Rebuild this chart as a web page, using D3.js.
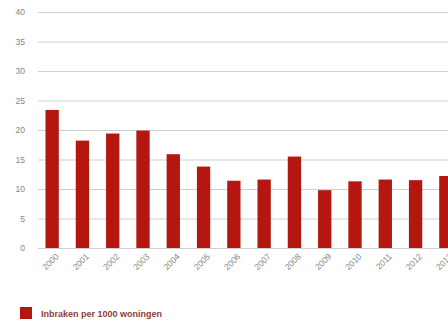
<!DOCTYPE html>
<html><head><meta charset="utf-8">
<script src="https://cdn.jsdelivr.net/npm/d3@7"></script>
<style>body{margin:0;background:#fff;}svg{display:block;}</style>
</head><body>
<svg id="c" width="448" height="324"></svg>
<script>
const years = ["2000","2001","2002","2003","2004","2005","2006","2007","2008","2009","2010","2011","2012","2013"];
const values = [23.4,18.2,19.4,19.9,15.9,13.8,11.4,11.6,15.5,9.8,11.3,11.6,11.5,12.2];
const yTicks = [0,5,10,15,20,25,30,35,40];
const legendLabel = "Inbraken per 1000 woningen";

const svg = d3.select("#c");
const y = d3.scaleLinear().domain([0,40]).range([248,12]);
const x = d3.scaleBand().domain(years).range([37,461]).paddingInner(0.56).paddingOuter(0.28);

// gridlines
svg.append("g").selectAll("line").data(yTicks).join("line")
  .attr("x1",38).attr("x2",448)
  .attr("y1",d=>y(d)+0.5).attr("y2",d=>y(d)+0.5)
  .attr("stroke","#cfcfcf").attr("stroke-width",1);

// y axis labels
const yAxis = d3.axisLeft(y).tickValues(yTicks).tickSize(0).tickPadding(0);
const ya = svg.append("g").attr("transform","translate(25,0)").call(yAxis);
ya.select(".domain").remove();
ya.selectAll("text").attr("font-family","Arial, Liberation Sans, sans-serif").attr("font-size","8.5px").attr("fill","#7f8883");

// bars
svg.append("g").selectAll("rect").data(values).join("rect")
  .attr("x",(d,i)=>x(years[i])).attr("width",x.bandwidth())
  .attr("y",d=>y(d)).attr("height",d=>y(0)-y(d))
  .attr("fill","#b3170f");

// x labels
const xAxis = d3.axisBottom(x).tickSize(0).tickPadding(0);
const xa = svg.append("g").attr("transform","translate(0,255)").call(xAxis);
xa.select(".domain").remove();
xa.selectAll("text")
  .attr("font-family","Arial, Liberation Sans, sans-serif").attr("font-size","8.5px").attr("fill","#7f8883")
  .attr("text-anchor","end").attr("dy","0.35em").attr("dx","0")
  .attr("transform","translate(5,0) rotate(-45)");

// legend
svg.append("rect").attr("x",20).attr("y",307).attr("width",12).attr("height",12).attr("fill","#b3170f");
svg.append("text").attr("x",41).attr("y",316.5).text(legendLabel)
  .attr("font-family","Arial, Liberation Sans, sans-serif").attr("font-size","9px").attr("font-weight","bold").attr("fill","#8a3f33");
</script>
</body></html>
